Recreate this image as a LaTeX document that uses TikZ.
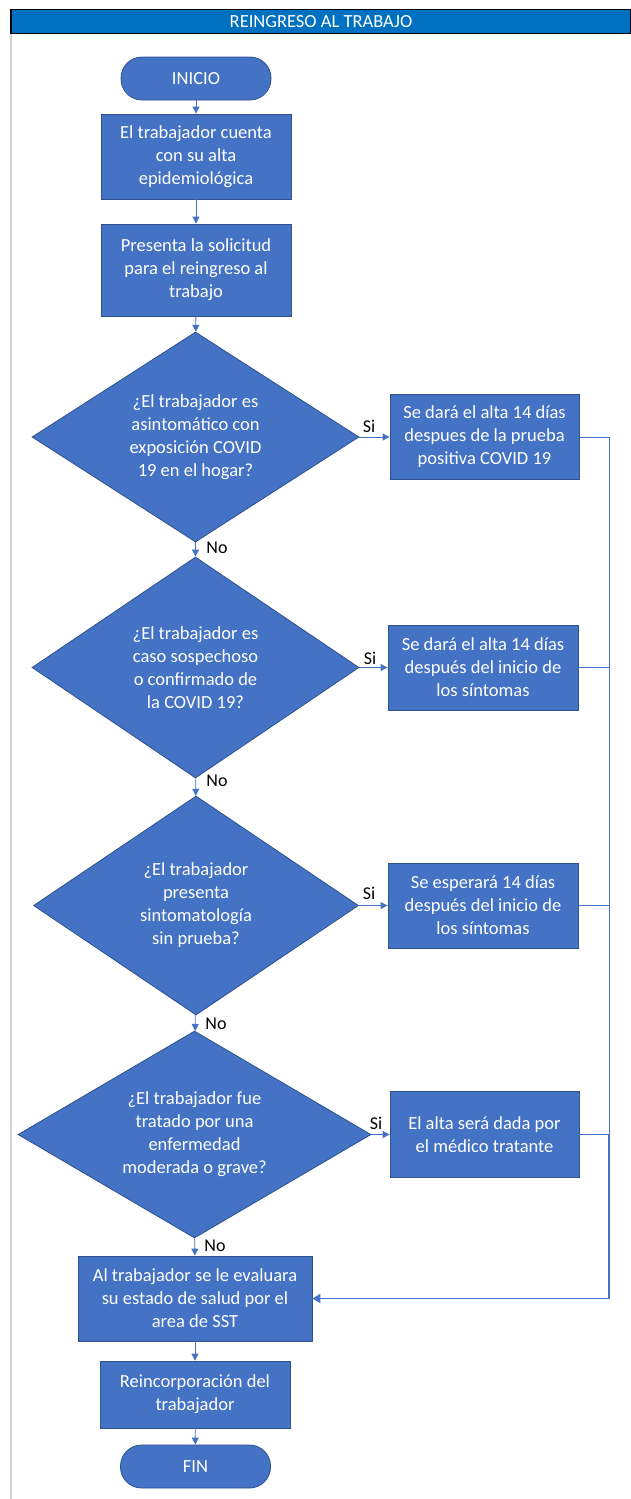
\documentclass[tikz,border=0pt]{standalone}
\usepackage{fontspec}
\setmainfont{Carlito}
\usetikzlibrary{shapes.geometric,arrows.meta}
\definecolor{boxblue}{HTML}{4472C4}
\definecolor{boxedge}{HTML}{2F528F}
\definecolor{headblue}{HTML}{0070C0}
\definecolor{lineblue}{HTML}{4472C4}
\begin{document}
\begin{tikzpicture}[x=1pt,y=-1pt,
  txt/.style={font=\fontsize{18.5}{23}\selectfont, text=white, align=center, inner sep=0pt},
  stepbox/.style={txt, draw=boxedge, fill=boxblue, line width=0.8pt, rectangle},
  term/.style={txt, draw=boxedge, fill=boxblue, line width=0.8pt, rectangle, rounded corners=21pt, minimum width=150pt, minimum height=43pt},
  decision/.style={draw=boxedge, fill=boxblue, line width=0.8pt, diamond, inner sep=0pt},
  arr/.style={draw=lineblue, line width=0.8pt, -{Triangle[width=7pt,length=7pt]}},
  conn/.style={draw=lineblue, line width=0.8pt},
  lab/.style={font=\fontsize{18}{20}\selectfont, text=black, inner sep=0pt}
]
\useasboundingbox (0,0) rectangle (630,1499);
\fill[white] (0,0) rectangle (630,1499);
% sheet border
\draw[black!18, line width=1.5pt] (11,34) -- (11,1499);
% header
\node[draw=black, line width=1.2pt, fill=headblue, minimum width=620pt, minimum height=24pt, inner sep=0pt,
      font=\fontsize{18.5}{20}\selectfont, text=white] (title) at (321,21.5) {REINGRESO AL TRABAJO};

% main column
\node[term] (ini) at (196,78.5) {INICIO};
\node[stepbox, minimum width=190pt, minimum height=85pt] (b1) at (196,156.5)
  {El trabajador cuenta\\con su alta\\epidemiológica};
\node[stepbox, minimum width=190pt, minimum height=92pt] (b2) at (196,270)
  {Presenta la solicitud\\para el reingreso al\\trabajo};

\node[decision, minimum width=327pt, minimum height=210pt] (d1) at (195.5,437) {};
\node[txt] (t1) at (d1.center)
  {¿El trabajador es\\asintomático con\\exposición COVID\\19 en el hogar?};
\node[decision, minimum width=327pt, minimum height=221pt] (d2) at (195.5,667.5) {};
\node[txt] (t2) at (d2.center)
  {¿El trabajador es\\caso sospechoso\\o confirmado de\\la COVID 19?};
\node[decision, minimum width=325pt, minimum height=219pt] (d3) at (196,905.5) {};
\node[txt] (t3) at (d3.center)
  {¿El trabajador\\presenta\\sintomatología\\sin prueba?};
\node[decision, minimum width=353pt, minimum height=207pt] (d4) at (194.5,1134.5) {};
\node[txt] (t4) at (d4.center)
  {¿El trabajador fue\\tratado por una\\enfermedad\\moderada o grave?};

\node[stepbox, minimum width=234pt, minimum height=85pt] (ev) at (195,1298.5)
  {Al trabajador se le evaluara\\su estado de salud por el\\area de SST};
\node[stepbox, minimum width=190pt, minimum height=67pt] (re) at (195,1394.5)
  {Reincorporación del\\trabajador};
\node[term] (fin) at (195.5,1466.5) {FIN};

% side boxes
\node[stepbox, minimum width=189pt, minimum height=85pt] (s1) at (484.5,437)
  {Se dará el alta 14 días\\despues de la prueba\\positiva COVID 19};
\node[stepbox, minimum width=190pt, minimum height=85pt] (s2) at (483,667.5)
  {Se dará el alta 14 días\\después del inicio de\\los síntomas};
\node[stepbox, minimum width=190pt, minimum height=85pt] (s3) at (483,905.5)
  {Se esperará 14 días\\después del inicio de\\los síntomas};
\node[stepbox, minimum width=189pt, minimum height=86pt] (s4) at (484.5,1134.5)
  {El alta será dada por\\el médico tratante};

% collector coordinates
\coordinate (c1) at (609,437);
\coordinate (c2) at (609,667.5);
\coordinate (c3) at (609,905.5);
\coordinate (c4) at (609,1134.5);
\coordinate (c5) at (609,1298.5);

% main flow
\draw[arr] (ini) -- (b1);
\draw[arr] (b1) -- (b2);
\draw[arr] (b2) -- (d1);
\draw[arr] (d1) -- (d2);
\draw[arr] (d2) -- (d3);
\draw[arr] (d3) -- (d4);
\draw[arr] (d4) -- (ev);
\draw[arr] (ev) -- (re);
\draw[arr] (re) -- (fin);

% yes branches
\draw[arr] (d1.east) -- (s1.west);
\draw[arr] (d2.east) -- (s2.west);
\draw[arr] (d3.east) -- (s3.west);
\draw[arr] (d4.east) -- (s4.west);

% returns
\draw[conn] (s1.east) -- (c1) -- (c4);
\draw[conn] (s2.east) -- (c2);
\draw[conn] (s3.east) -- (c3);
\draw[conn] (s4.east) -- (c4);
\draw[draw=lineblue, line width=1.6pt, -{Triangle[width=9pt,length=8pt]}] (c4) -- (c5) -- (ev.east);

% labels
\node[lab] (si1) at (369,426) {Si};
\node[lab] (si2) at (370,658) {Si};
\node[lab] (si3) at (369,893) {Si};
\node[lab] (si4) at (376,1123) {Si};
\node[lab] (no1) at (217,548) {No};
\node[lab] (no2) at (217,781) {No};
\node[lab] (no3) at (216,1024) {No};
\node[lab] (no4) at (215,1246) {No};
\end{tikzpicture}
\end{document}
